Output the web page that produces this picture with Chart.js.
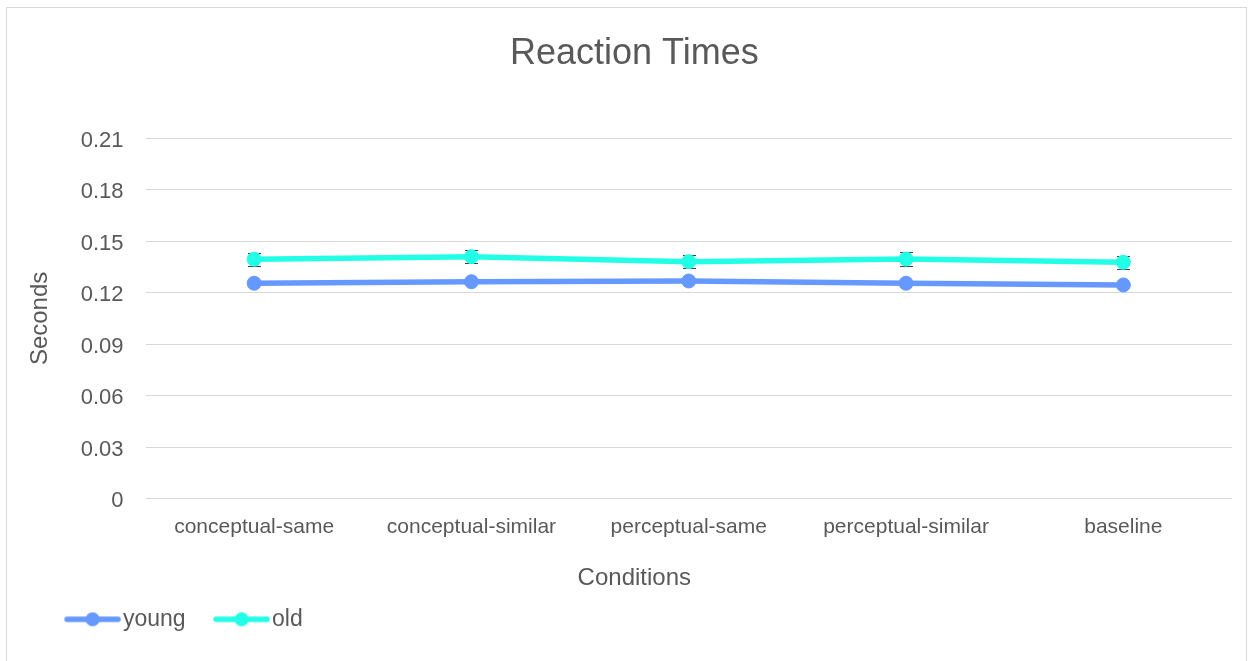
<!DOCTYPE html>
<html>
<head>
<meta charset="utf-8">
<title>Reaction Times</title>
<script src="https://cdn.jsdelivr.net/npm/chart.js@4/dist/chart.umd.min.js"></script>
<style>
  html, body { margin: 0; padding: 0; background: #ffffff; }
  #wrap { position: relative; width: 1255px; height: 661px; overflow: hidden; }
  #frame { position: absolute; left: 6px; top: 7px; width: 1241px; height: 720px; border: 1px solid #d9d9d9; box-sizing: border-box; }
  #chart { position: absolute; left: 0; top: 0; }
</style>
</head>
<body>
<div id="wrap">
  <div id="frame"></div>
  <canvas id="chart" width="1255" height="661"></canvas>
</div>
<script>
// Conditions on the category axis
const categories = ['conceptual-same', 'conceptual-similar', 'perceptual-same', 'perceptual-similar', 'baseline'];

// Mean reaction times in seconds
const young = [0.1255, 0.1264, 0.1268, 0.1255, 0.1245];
const old = [0.1395, 0.1410, 0.1381, 0.1396, 0.1377];

// Error bar half-widths for the old group
const oldErrors = [0.0039, 0.0039, 0.0039, 0.0039, 0.0039];

// Value axis ticks
const yTickValues = [0, 0.03, 0.06, 0.09, 0.12, 0.15, 0.18, 0.21];
const yTickLabels = ['0', '0.03', '0.06', '0.09', '0.12', '0.15', '0.18', '0.21'];

const FONT = '"Liberation Sans", Arial, sans-serif';
const TEXT = '#595959';
const YOUNG_COLOR = '#6699ff';
const OLD_COLOR = '#22ffe6';

// Legend swatch: a short line with a round marker in the middle
function legendSwatch(color) {
  const c = document.createElement('canvas');
  c.width = 84; c.height = 18;
  const g = c.getContext('2d');
  g.strokeStyle = color;
  g.lineWidth = 5.5;
  g.lineCap = 'round';
  g.beginPath();
  g.moveTo(30, 9);
  g.lineTo(81, 9);
  g.stroke();
  g.fillStyle = color;
  g.beginPath();
  g.arc(55.5, 9, 7, 0, Math.PI * 2);
  g.fill();
  return c;
}

// Draws the vertical error bars (behind lines and markers)
const errorBars = {
  id: 'errorBars',
  beforeDatasetsDraw(chart) {
    const ctx = chart.ctx;
    const yScale = chart.scales.y;
    chart.data.datasets.forEach((ds, i) => {
      if (!ds.errors) return;
      const meta = chart.getDatasetMeta(i);
      ctx.save();
      ctx.strokeStyle = '#404040';
      ctx.lineWidth = 1;
      meta.data.forEach((pt, j) => {
        const v = ds.data[j];
        const e = ds.errors[j];
        const x = Math.round(pt.x) + 0.5;
        const yt = Math.round(yScale.getPixelForValue(v + e)) + 0.5;
        const yb = Math.round(yScale.getPixelForValue(v - e)) + 0.5;
        const half = 6.5;
        ctx.beginPath();
        ctx.moveTo(x, yt); ctx.lineTo(x, yb);
        ctx.moveTo(x - half, yt); ctx.lineTo(x + half, yt);
        ctx.moveTo(x - half, yb); ctx.lineTo(x + half, yb);
        ctx.stroke();
      });
      ctx.restore();
    });
  }
};

new Chart(document.getElementById('chart'), {
  type: 'line',
  data: {
    labels: categories,
    datasets: [
      {
        label: 'young',
        data: young,
        borderColor: YOUNG_COLOR,
        backgroundColor: YOUNG_COLOR,
        borderWidth: 5.5,
        pointRadius: 7,
        pointBorderWidth: 1,
        pointBackgroundColor: YOUNG_COLOR,
        pointBorderColor: YOUNG_COLOR,
        tension: 0
      },
      {
        label: 'old',
        data: old,
        errors: oldErrors,
        borderColor: OLD_COLOR,
        backgroundColor: OLD_COLOR,
        borderWidth: 5.5,
        pointRadius: 7,
        pointBorderWidth: 1,
        pointBackgroundColor: OLD_COLOR,
        pointBorderColor: OLD_COLOR,
        tension: 0
      }
    ]
  },
  options: {
    responsive: false,
    animation: false,
    devicePixelRatio: 1,
    layout: { padding: { left: 36.65, right: 23, top: 0, bottom: 20.2 } },
    plugins: {
      title: {
        display: true,
        text: 'Reaction Times',
        color: TEXT,
        font: { family: FONT, size: 36, weight: 'normal' },
        padding: { top: 32, bottom: 63.1 }
      },
      // category axis title, centred under the whole chart
      subtitle: {
        display: true,
        position: 'bottom',
        weight: 500,
        text: 'Conditions',
        color: TEXT,
        font: { family: FONT, size: 24, weight: 'normal' },
        padding: { top: 0, bottom: 4.9 }
      },
      legend: {
        display: true,
        position: 'bottom',
        align: 'start',
        weight: 1000,
        labels: {
          color: TEXT,
          font: { family: FONT, size: 23 },
          padding: 10,
          usePointStyle: true,
          pointStyleWidth: 64.85,
          generateLabels(chart) {
            return chart.data.datasets.map((ds, i) => ({
              text: ds.label,
              datasetIndex: i,
              pointStyle: legendSwatch(ds.borderColor),
              fillStyle: ds.borderColor,
              strokeStyle: ds.borderColor,
              lineWidth: 0,
              hidden: false,
              fontColor: TEXT
            }));
          }
        }
      },
      tooltip: { enabled: false }
    },
    scales: {
      x: {
        type: 'category',
        offset: true,
        grid: { display: false, drawTicks: false },
        border: { display: false },
        ticks: {
          color: TEXT,
          font: { family: FONT, size: 21 },
          padding: 16,
          maxRotation: 0,
          autoSkip: false
        },
        afterFit(scale) { scale.height = 65.6; }
      },
      y: {
        min: 0,
        max: 0.21,
        grid: { color: '#d9d9d9', lineWidth: 1, drawTicks: false },
        border: { display: false },
        afterBuildTicks(scale) {
          scale.ticks = yTickValues.map(v => ({ value: v }));
        },
        ticks: {
          color: TEXT,
          font: { family: FONT, size: 22 },
          padding: 22,
          labelOffset: 2.5,
          callback: (value, index) => yTickLabels[index]
        },
        title: {
          display: true,
          text: 'Seconds',
          color: TEXT,
          font: { family: FONT, size: 24, lineHeight: 1 },
          padding: { top: -8.6, bottom: 0 }
        },
        afterFit(scale) { scale.width = 108.85; }
      }
    }
  },
  plugins: [errorBars]
});
</script>
</body>
</html>
